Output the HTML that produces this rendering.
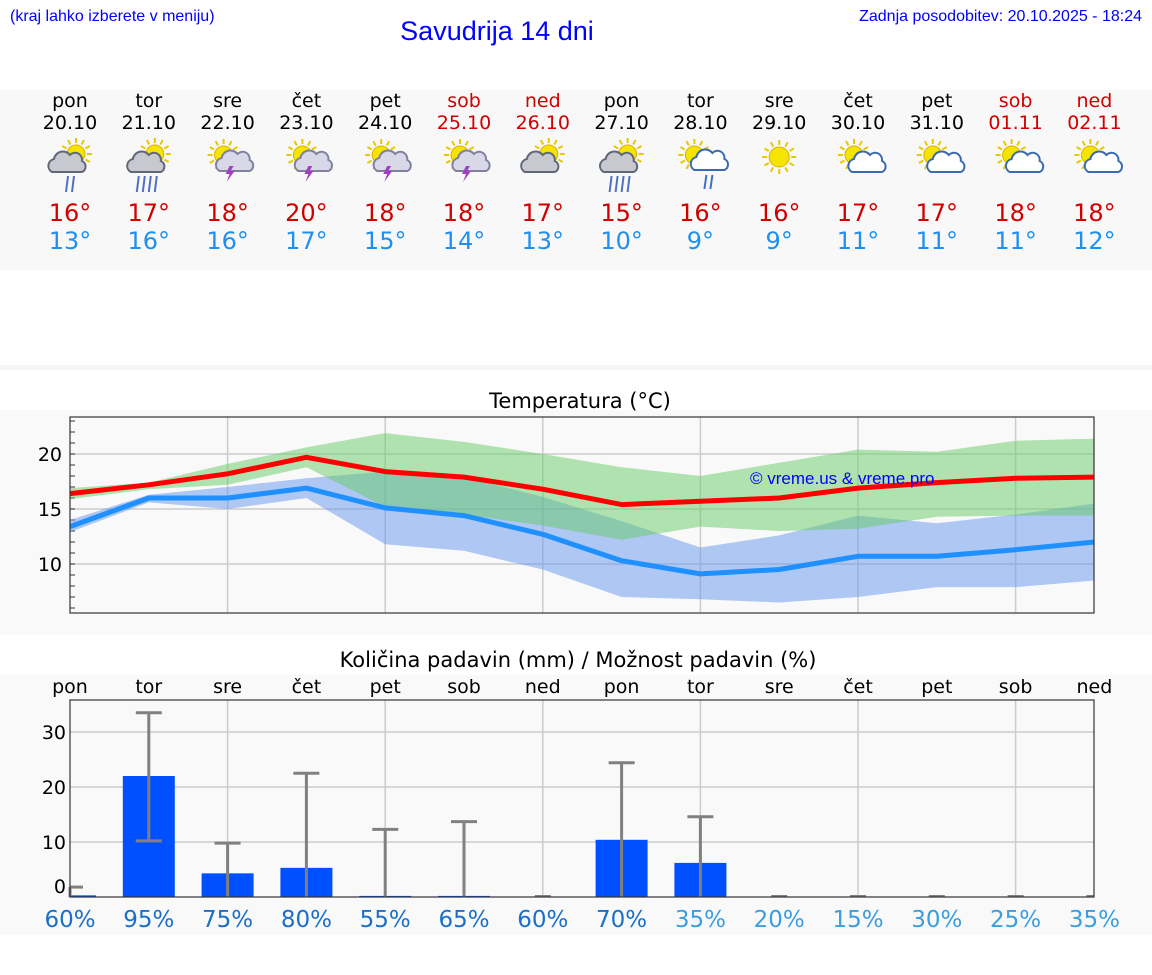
<!DOCTYPE html>
<html><head><meta charset="utf-8"><style>
body{margin:0;background:#fff;font-family:"Liberation Sans","DejaVu Sans",sans-serif}
svg{display:block}
</style></head><body>
<svg id="s" width="1152" height="975" xmlns="http://www.w3.org/2000/svg" font-family="DejaVu Sans, Liberation Sans, sans-serif">
<text x="10" y="21" font-size="16" fill="#0000ff" font-family="Liberation Sans, sans-serif">(kraj lahko izberete v meniju)</text>
<text x="497" y="40" font-size="27" fill="#0000ff" text-anchor="middle" font-family="Liberation Sans, sans-serif">Savudrija 14 dni</text>
<text x="1142" y="21" font-size="16" fill="#0000ff" text-anchor="end" font-family="Liberation Sans, sans-serif">Zadnja posodobitev: 20.10.2025 - 18:24</text>
<rect x="0" y="90" width="1152" height="180" fill="#f8f8f8"/>
<rect x="0" y="365" width="1152" height="5" fill="#f6f6f6"/>
<rect x="0" y="410" width="1152" height="225" fill="#f9f9f9"/>
<rect x="0" y="675" width="1152" height="260" fill="#f9f9f9"/>
<text x="580" y="408" font-size="21" text-anchor="middle" fill="#000">Temperatura (°C)</text>
<text x="578" y="667" font-size="21" text-anchor="middle" fill="#000">Količina padavin (mm) / Možnost padavin (%)</text>
<g id="hdr"></g><g id="tc"></g><g id="pc"></g>
</svg>
<script>
const days=["pon","tor","sre","čet","pet","sob","ned","pon","tor","sre","čet","pet","sob","ned"];
const dates=["20.10","21.10","22.10","23.10","24.10","25.10","26.10","27.10","28.10","29.10","30.10","31.10","01.11","02.11"];
const hiTemps=[16,17,18,20,18,18,17,15,16,16,17,17,18,18];
const loTemps=[13,16,16,17,15,14,13,10,9,9,11,11,11,12];
const icons=["rain","rain","storm","storm","storm","storm","cloud","rain","rain2","sun","pc","pc","pc","pc"];
const maxMean=[16.4,17.2,18.2,19.7,18.4,17.9,16.8,15.4,15.7,16.0,16.9,17.4,17.8,17.9];
const minMean=[13.4,16.0,16.0,16.9,15.1,14.4,12.7,10.3,9.1,9.5,10.7,10.7,11.3,12.0];
const maxUp=[16.9,17.4,19.1,20.6,21.9,21.1,20.0,18.8,18.0,19.2,20.4,20.2,21.2,21.4];
const maxLo=[15.9,16.8,17.2,18.8,15.2,14.5,13.5,12.2,13.4,13.0,13.2,14.3,14.4,14.4];
const minUp=[14.0,16.3,17.0,17.8,18.4,17.9,16.1,13.9,11.5,12.6,14.4,13.7,14.5,15.5];
const minLo=[12.9,15.6,15.0,16.0,11.8,11.2,9.5,7.0,6.8,6.5,7.0,7.9,7.9,8.5];
const tempTicks=[10,15,20];
const precip=[0.3,22,4.3,5.3,0.2,0.2,0,10.4,6.2,0,0,0,0,0];
const errLo=[0,10.2,0,0,0,0,0,0,0,0,0,0,0,0];
const errHi=[1.8,33.5,9.8,22.5,12.3,13.7,0,24.4,14.6,0,0,0,0,0];
const probs=[60,95,75,80,55,65,60,70,35,20,15,30,25,35];
const precipTicks=[10,20,30];

const NS="http://www.w3.org/2000/svg";
function mk(p,t,a){const e=document.createElementNS(NS,t);for(const k in a)e.setAttribute(k,a[k]);p.appendChild(e);return e;}
const X=i=>70+i*78.8;
const yT=t=>454-(t-20)*11;
const yP=v=>897-v*5.5;

const hdr=document.getElementById('hdr');
function sun(g,cx,cy,r){
  for(let k=0;k<12;k++){const a=k*Math.PI/6;mk(g,'line',{x1:cx+Math.cos(a)*(r+2),y1:cy+Math.sin(a)*(r+2),x2:cx+Math.cos(a)*(r+7),y2:cy+Math.sin(a)*(r+7),stroke:'#e8c800','stroke-width':2});}
  mk(g,'circle',{cx:cx,cy:cy,r:r,fill:'#f5e400',stroke:'#e0b000','stroke-width':1});
}
function cloud(g,cx,cy,fill,stroke){
  const p=`M${cx-16},${cy+8} a7,7 0 0 1 2,-13 a9,9 0 0 1 16,-4 a7,7 0 0 1 12,6 a6,6 0 0 1 0,11 z`;
  mk(g,'path',{d:p,fill:fill,stroke:stroke,'stroke-width':2});
}
days.forEach((d,i)=>{
  const x=X(i);const we=(i%7>=5);
  let t=mk(hdr,'text',{x:x,y:107,'font-size':19,'text-anchor':'middle',fill:we?'#d00000':'#000'});t.textContent=d;
  
  
  t=mk(hdr,'text',{x:x,y:129,'font-size':19,'text-anchor':'middle',fill:we?'#d00000':'#000'});t.textContent=dates[i];
  
  
  const g=mk(hdr,'g',{});
  
  
  const ic=icons[i];
  if(ic==='sun'){sun(g,x,157,10);}
  else if(ic==='pc'){sun(g,x-4,155,9);cloud(g,x+10,164,'#fff','#3a6ab0');}
  else if(ic==='storm'){sun(g,x-4,155,9);cloud(g,x+8,163,'#d8d8e8','#8080a0');mk(g,'path',{d:`M${x+2},${166} l-4,8 h4 l-3,8 l8,-11 h-4 l3,-5z`,fill:'#a040c0'});}
  else if(ic==='cloud'){sun(g,x+6,154,9);cloud(g,x-2,164,'#c8c8d0','#606878');}
  else if(ic==='rain2'){sun(g,x-6,155,9);cloud(g,x+10,162,'#fff','#3a6ab0');[0,6].forEach(o=>mk(g,'line',{x1:x+6+o,y1:175,x2:x+4+o,y2:189,stroke:'#4070c0','stroke-width':2}));}
  else {sun(g,x+6,154,9);cloud(g,x-2,164,'#c8c8d0','#606878');(i==1||i==7?[-10,-4,2,8]:[-2,4]).forEach(o=>mk(g,'line',{x1:x+o,y1:176,x2:x+o-2,y2:192,stroke:'#5070c0','stroke-width':2}));}
  t=mk(hdr,'text',{x:x,y:221,'font-size':24,'text-anchor':'middle',fill:'#d00000'});t.textContent=hiTemps[i]+'°';
  
  
  t=mk(hdr,'text',{x:x,y:249,'font-size':24,'text-anchor':'middle',fill:'#2090f0'});t.textContent=loTemps[i]+'°';
  
  
});

const tc=document.getElementById('tc');
mk(tc,'rect',{x:70,y:417,width:1024,height:196,fill:'#f9f9f9'});
for(let i=2;i<13;i+=2){mk(tc,'line',{x1:X(i),y1:417,x2:X(i),y2:613,stroke:'#ccc','stroke-width':1.5});}
tempTicks.forEach(v=>{mk(tc,'line',{x1:70,y1:yT(v),x2:1094,y2:yT(v),stroke:'#ccc','stroke-width':1.5});
  const t=mk(tc,'text',{x:62,y:yT(v)+7,'font-size':19,'text-anchor':'end',fill:'#000'});t.textContent=v;
  
  });
for(let v=6;v<=23;v++){mk(tc,'line',{x1:70,y1:yT(v),x2:75,y2:yT(v),stroke:'#333'});}
function band(up,lo,fill,name){
  let d='M'+up.map((v,i)=>X(i).toFixed(1)+','+yT(v).toFixed(1)).join(' L');
  d+=' L'+lo.map((v,i)=>X(i).toFixed(1)+','+yT(v).toFixed(1)).reverse().join(' L')+'Z';
  const p=mk(tc,'path',{d:d,fill:fill});
  
  
}
function line(vals,col,name){
  const p=mk(tc,'polyline',{points:vals.map((v,i)=>X(i).toFixed(1)+','+yT(v).toFixed(1)).join(' '),fill:'none',stroke:col,'stroke-width':5,'stroke-linejoin':'round'});
  
  
}
band(minUp,minLo,'rgba(100,149,237,0.5)','min-temp-range');
band(maxUp,maxLo,'rgba(102,204,102,0.5)','max-temp-range');
line(minMean,'#1e90ff','min-temp-line');
line(maxMean,'#ff0000','max-temp-line');
let wm=mk(tc,'text',{x:750,y:484,'font-size':17,fill:'#0000ff','font-family':'Liberation Sans, sans-serif'});wm.textContent='© vreme.us & vreme.pro';


mk(tc,'rect',{x:70,y:417,width:1024,height:196,fill:'none',stroke:'#333','stroke-width':1.2});

const pc=document.getElementById('pc');
days.forEach((d,i)=>{const t=mk(pc,'text',{x:X(i),y:693,'font-size':19,'text-anchor':'middle',fill:'#000'});t.textContent=d;
  
  });
mk(pc,'rect',{x:70,y:700,width:1024,height:197,fill:'#f9f9f9'});
for(let i=2;i<13;i+=2){mk(pc,'line',{x1:X(i),y1:700,x2:X(i),y2:897,stroke:'#ccc','stroke-width':1.5});}
precipTicks.forEach(v=>{mk(pc,'line',{x1:70,y1:yP(v),x2:1094,y2:yP(v),stroke:'#ccc','stroke-width':1.5});
  const t=mk(pc,'text',{x:66,y:yP(v)+7,'font-size':19,'text-anchor':'end',fill:'#000'});t.textContent=v;
  
  });
let z=mk(pc,'text',{x:66,y:893,'font-size':19,'text-anchor':'end',fill:'#000'});z.textContent='0';


precip.forEach((v,i)=>{
  const x0=Math.max(70,X(i)-26),x1=Math.min(1094,X(i)+26);
  if(v>0){const r=mk(pc,'rect',{x:x0,y:yP(v),width:x1-x0,height:897-yP(v),fill:'#0050ff'});
    
    }
});
errHi.forEach((v,i)=>{
  const x=X(i);const g=mk(pc,'g',{stroke:'#808080','stroke-width':3});
  
  
  if(v>0){mk(g,'line',{x1:x,y1:yP(errLo[i]),x2:x,y2:yP(v)});
    mk(g,'line',{x1:Math.max(70,x-13),y1:yP(v),x2:x+13,y2:yP(v)});
    if(errLo[i]>0)mk(g,'line',{x1:x-13,y1:yP(errLo[i]),x2:x+13,y2:yP(errLo[i])});}
  else mk(g,'line',{x1:x-8,y1:896,x2:Math.min(1094,x+8),y2:896,'stroke-width':2});
});
mk(pc,'rect',{x:70,y:700,width:1024,height:197,fill:'none',stroke:'#333','stroke-width':1.2});
probs.forEach((p,i)=>{const t=mk(pc,'text',{x:X(i),y:927,'font-size':23,'text-anchor':'middle',fill:p>=40?'#1a6fc9':'#3a9ee0'});t.textContent=p+'%';
  
  });
</script>
</body></html>
